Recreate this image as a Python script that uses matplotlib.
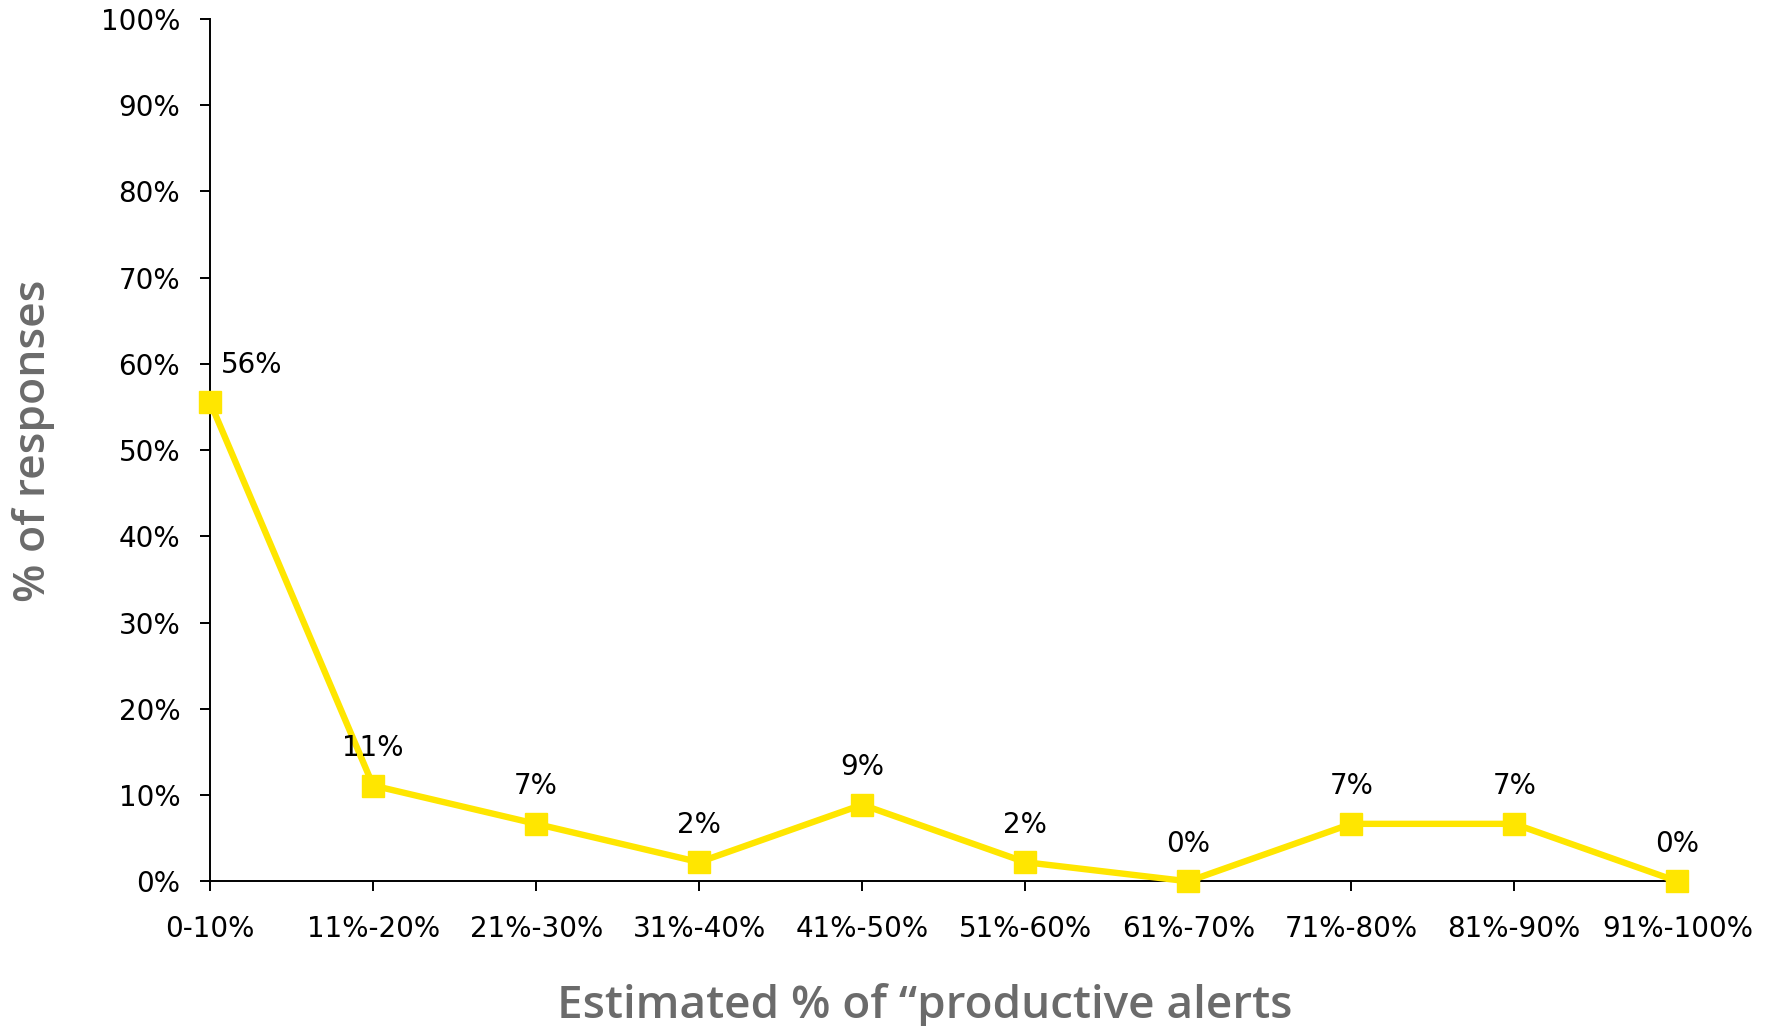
import numpy as np
import matplotlib.pyplot as plt
from matplotlib.ticker import FuncFormatter

# survey responses per band (45 responses in total)
bands = ['0-10%', '11%-20%', '21%-30%', '31%-40%', '41%-50%',
         '51%-60%', '61%-70%', '71%-80%', '81%-90%', '91%-100%']
counts = [25, 5, 3, 1, 4, 1, 0, 3, 3, 0]
total = 45
share = [100 * c / total for c in counts]

yellow = '#FFE600'
grey = '#6b6b6b'

fig = plt.figure(figsize=(17.73, 10.26), dpi=100)
ax = fig.add_axes([0.1185, 0.141, 0.8275, 0.8405])

x = np.arange(len(bands))
ax.plot(x, share, color=yellow, lw=4.6, marker='s', ms=16,
        mec=yellow, mfc=yellow, clip_on=False, zorder=3)

# value labels above each point, first one pushed right of the axis
for i, v in enumerate(share):
    dx = 30 if i == 0 else 0
    ax.annotate(f'{v:.0f}%', (x[i], v), xytext=(dx, 27), textcoords='offset points',
                ha='center', va='center', fontsize=20, color='black')

ax.set_xlim(0, len(bands) - 1)
ax.set_ylim(0, 100)
ax.set_xticks(x)
ax.set_xticklabels(bands)
ax.set_yticks(np.arange(0, 101, 10))
ax.yaxis.set_major_formatter(FuncFormatter(lambda v, p: f'{v:.0f}%'))

for side in ['top', 'right']:
    ax.spines[side].set_visible(False)
for side in ['left', 'bottom']:
    ax.spines[side].set_linewidth(1.4)
ax.tick_params(axis='both', direction='out', length=7.5, width=1.4, labelsize=20)
ax.tick_params(axis='x', pad=17)
ax.tick_params(axis='y', pad=14)

# axis titles
fig.text(0.0186, 0.570, '% of responses', rotation=90, ha='center', va='center',
         fontsize=32, color=grey, family='Open Sans', fontweight='semibold')
fig.text(0.5217, 0.008, 'Estimated % of \u201cproductive alerts', ha='center', va='baseline',
         fontsize=33, color=grey, family='Open Sans', fontweight='semibold')

fig.savefig('out.png', dpi=100)
